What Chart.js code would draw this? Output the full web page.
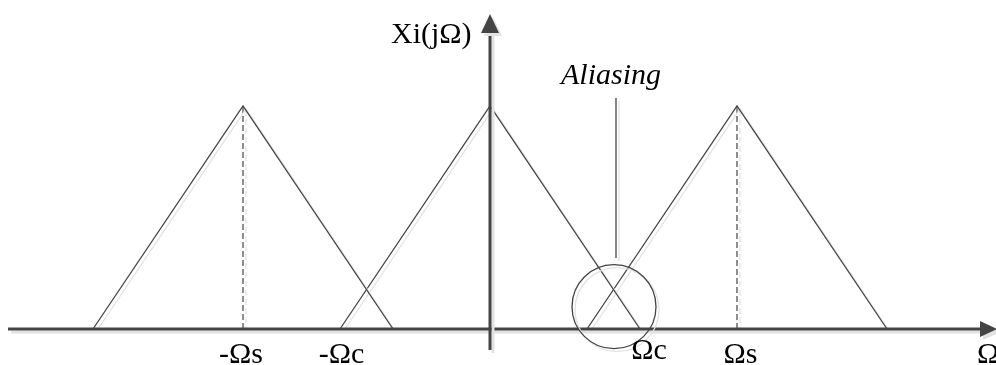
<!DOCTYPE html>
<html>
<head>
<meta charset="utf-8">
<script src="https://cdn.jsdelivr.net/npm/chart.js@4"></script>
<style>
  body { margin: 0; background: #fff; }
  #wrap { width: 996px; height: 365px; position: relative; }
</style>
</head>
<body>
<div id="wrap"><canvas id="spectrum"></canvas></div>
<script>
// Spectrum copies: centers at -Ωs, 0, Ωs, each band-limited to ±Ωc
const copyCenters = [-247, 0, 247];
const copyPeaks = [1, 1, 1];
const bandEdge = 150;            // Ωc
const markerX = [-247, 247];     // dashed lines at ±Ωs
const tickValues = [-247, -150, 150, 247];
const tickLabels = ['-\u03A9s', '-\u03A9c', '\u03A9c', '\u03A9s'];
const yTitle = 'Xi(j\u03A9)';
const xTitle = '\u03A9';
const noteText = 'Aliasing';
const noteCircle = [124, 0.1];   // center of the aliasing circle (x, y)

const ink = '#444';
const serif = '"Liberation Serif", "Times New Roman", serif';

const datasets = copyCenters.map((c, i) => ({
    data: [
        { x: c - bandEdge, y: 0 },
        { x: c, y: copyPeaks[i] },
        { x: c + bandEdge, y: 0 }
    ],
    borderColor: ink,
    borderWidth: 1.3,
    pointRadius: 0,
    tension: 0,
    fill: false
}));

markerX.forEach((m, i) => {
    datasets.push({
        data: [{ x: m, y: 0 }, { x: m, y: copyPeaks[i === 0 ? 0 : 2] }],
        borderColor: ink,
        borderWidth: 1.2,
        borderDash: [6, 3],
        pointRadius: 0,
        fill: false
    });
});

// light offset shadow under every drawn line
const shadowPlugin = {
    id: 'shadow',
    beforeDatasetsDraw(chart) {
        const ctx = chart.ctx;
        ctx.save();
        ctx.shadowColor = '#e2e2e2';
        ctx.shadowOffsetX = 3;
        ctx.shadowOffsetY = 3;
        ctx.shadowBlur = 0;
    },
    afterDatasetsDraw(chart) {
        chart.ctx.restore();
    }
};

// axes with arrow heads, tick labels and the aliasing note
const decorPlugin = {
    id: 'decor',
    afterDatasetsDraw(chart) {
        const ctx = chart.ctx;
        const xs = chart.scales.x, ys = chart.scales.y;
        const x0 = xs.getPixelForValue(0);
        const y0 = ys.getPixelForValue(0);
        const W = chart.width;

        ctx.save();
        ctx.shadowColor = '#e2e2e2';
        ctx.shadowOffsetX = 3;
        ctx.shadowOffsetY = 3;
        ctx.strokeStyle = ink;
        ctx.fillStyle = ink;
        ctx.lineWidth = 3;

        // horizontal axis
        ctx.beginPath();
        ctx.moveTo(8, y0);
        ctx.lineTo(W - 14, y0);
        ctx.stroke();
        ctx.beginPath();
        ctx.moveTo(W + 1, y0);
        ctx.lineTo(W - 16, y0 - 8);
        ctx.lineTo(W - 16, y0 + 8);
        ctx.closePath();
        ctx.fill();

        // vertical axis
        ctx.beginPath();
        ctx.moveTo(x0, 350);
        ctx.lineTo(x0, 30);
        ctx.stroke();
        ctx.beginPath();
        ctx.moveTo(x0, 14);
        ctx.lineTo(x0 - 9, 33);
        ctx.lineTo(x0 + 9, 33);
        ctx.closePath();
        ctx.fill();

        // aliasing circle and leader line
        const cx = xs.getPixelForValue(noteCircle[0]);
        const cy = ys.getPixelForValue(noteCircle[1]);
        ctx.lineWidth = 1.3;
        ctx.beginPath();
        ctx.arc(cx, cy, 42, 0, Math.PI * 2);
        ctx.stroke();
        ctx.beginPath();
        ctx.moveTo(cx + 2, 98);
        ctx.lineTo(cx + 2, 258);
        ctx.stroke();
        ctx.restore();

        // text
        const shifts = [-2, 1.5, 9, 3.5];
        const bases = [363, 363, 359, 363];
        ctx.save();
        ctx.fillStyle = '#000';
        ctx.font = '30px ' + serif;
        ctx.textAlign = 'center';
        ctx.textBaseline = 'alphabetic';
        tickValues.forEach((v, i) => {
            const px = xs.getPixelForValue(v);
            ctx.fillText(tickLabels[i], px + shifts[i], bases[i]);
        });
        ctx.textAlign = 'left';
        ctx.fillText(xTitle, 977, 363);
        ctx.fillText(yTitle, 391, 43);
        ctx.font = 'italic 30px ' + serif;
        ctx.fillText(noteText, 561, 84);
        ctx.restore();
    }
};

new Chart(document.getElementById('spectrum'), {
    type: 'line',
    data: { datasets: datasets },
    options: {
        responsive: true,
        maintainAspectRatio: false,
        animation: false,
        layout: { padding: 0 },
        scales: {
            x: { type: 'linear', min: -490, max: 506, display: false },
            y: { min: -0.1614, max: 1.4753, display: false }
        },
        plugins: {
            legend: { display: false },
            tooltip: { enabled: false }
        }
    },
    plugins: [shadowPlugin, decorPlugin]
});
</script>
</body>
</html>
